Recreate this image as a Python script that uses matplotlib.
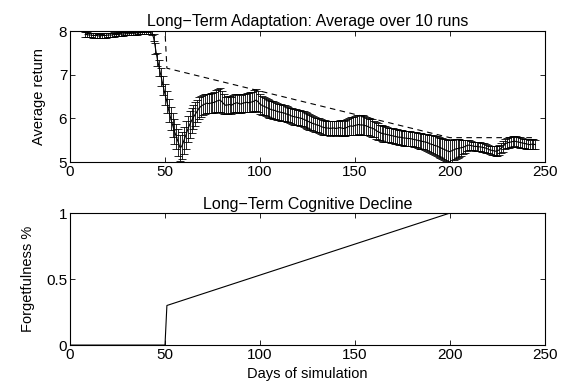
import numpy as np
import matplotlib
matplotlib.use("Agg")
import matplotlib.pyplot as plt

plt.rcParams['font.family'] = ['Liberation Sans', 'DejaVu Sans']

# ---- data ----
days_start, days_end = 8, 245
mean_return = [
    # 8..43
    7.92, 7.92, 7.91, 7.91, 7.90, 7.90, 7.90, 7.89, 7.89, 7.90, 7.90, 7.90, 7.91,
    7.91, 7.91, 7.92, 7.92, 7.92, 7.93, 7.93, 7.93, 7.94, 7.94, 7.94, 7.95, 7.95,
    7.95, 7.96, 7.96, 7.96, 7.97, 7.97, 7.97, 7.97, 7.97, 7.96,
    # 44..58
    7.85, 7.60, 7.35, 7.15, 6.95, 6.75, 6.55, 6.38, 6.18, 6.00, 5.85, 5.70, 5.58, 5.45, 5.32,
    # 59..70
    5.38, 5.50, 5.62, 5.75, 5.86, 5.95, 6.03, 6.10, 6.17, 6.24, 6.28, 6.31,
    # 71..86
    6.33, 6.35, 6.34, 6.35, 6.36, 6.37, 6.39, 6.41, 6.42, 6.38, 6.33, 6.30, 6.31, 6.32, 6.30, 6.33,
    # 87..100
    6.35, 6.36, 6.34, 6.33, 6.35, 6.36, 6.37, 6.36, 6.37, 6.38, 6.40, 6.42, 6.38, 6.33,
    # 101..120
    6.30, 6.28, 6.26, 6.24, 6.22, 6.20, 6.19, 6.18, 6.16, 6.15, 6.14, 6.13, 6.12, 6.10, 6.09,
    6.07, 6.05, 6.04, 6.03, 6.02,
    # 121..140
    6.01, 6.00, 5.98, 5.96, 5.94, 5.92, 5.90, 5.88, 5.87, 5.85, 5.84, 5.82, 5.80, 5.79, 5.78,
    5.78, 5.77, 5.78, 5.78, 5.77,
    # 141..160
    5.78, 5.79, 5.78, 5.77, 5.78, 5.80, 5.82, 5.83, 5.82, 5.84, 5.85, 5.86, 5.85, 5.85, 5.84,
    5.83, 5.81, 5.79, 5.78, 5.76,
    # 161..180
    5.73, 5.70, 5.68, 5.66, 5.65, 5.64, 5.63, 5.62, 5.61, 5.60, 5.59, 5.58, 5.57, 5.57, 5.56,
    5.55, 5.55, 5.54, 5.54, 5.53,
    # 181..200
    5.52, 5.51, 5.50, 5.49, 5.48, 5.47, 5.46, 5.45, 5.43, 5.41, 5.40, 5.38, 5.37, 5.35, 5.33,
    5.31, 5.29, 5.27, 5.25, 5.24,
    # 201..220
    5.26, 5.28, 5.30, 5.31, 5.32, 5.33, 5.34, 5.36, 5.38, 5.39, 5.38, 5.37, 5.36, 5.36, 5.35,
    5.35, 5.34, 5.33, 5.32, 5.30,
    # 221..245
    5.28, 5.27, 5.26, 5.25, 5.26, 5.28, 5.32, 5.36, 5.41, 5.44, 5.45, 5.46, 5.47, 5.48, 5.47,
    5.46, 5.45, 5.44, 5.43, 5.42, 5.41, 5.40, 5.41, 5.41, 5.40,
]
err_return = [
    # 8..43
    0.05, 0.05, 0.05, 0.05, 0.05, 0.05, 0.05, 0.05, 0.05, 0.05, 0.05, 0.05, 0.05,
    0.05, 0.05, 0.05, 0.04, 0.04, 0.04, 0.04, 0.04, 0.04, 0.04, 0.04, 0.04, 0.04,
    0.04, 0.04, 0.03, 0.03, 0.03, 0.03, 0.03, 0.03, 0.03, 0.04,
    # 44..58
    0.08, 0.12, 0.15, 0.18, 0.20, 0.22, 0.24, 0.25, 0.26, 0.27, 0.28, 0.28, 0.29, 0.30, 0.30,
    # 59..70
    0.30, 0.31, 0.31, 0.30, 0.30, 0.29, 0.28, 0.27, 0.26, 0.25, 0.24, 0.23,
    # 71..86
    0.22, 0.22, 0.22, 0.23, 0.23, 0.24, 0.25, 0.26, 0.27, 0.25, 0.22, 0.20, 0.20, 0.20, 0.20, 0.21,
    # 87..100
    0.21, 0.21, 0.21, 0.20, 0.21, 0.21, 0.22, 0.22, 0.23, 0.23, 0.24, 0.26, 0.24, 0.22,
    # 101..120
    0.21, 0.21, 0.20, 0.20, 0.20, 0.20, 0.20, 0.19, 0.19, 0.19, 0.19, 0.18, 0.18, 0.18, 0.18,
    0.18, 0.18, 0.18, 0.18, 0.18,
    # 121..140
    0.18, 0.18, 0.18, 0.18, 0.18, 0.18, 0.17, 0.17, 0.17, 0.17, 0.17, 0.17, 0.17, 0.17, 0.17,
    0.17, 0.17, 0.17, 0.17, 0.17,
    # 141..160
    0.17, 0.17, 0.18, 0.18, 0.19, 0.19, 0.20, 0.20, 0.21, 0.21, 0.22, 0.22, 0.22, 0.22, 0.21,
    0.21, 0.20, 0.20, 0.20, 0.19,
    # 161..180
    0.19, 0.19, 0.18, 0.18, 0.18, 0.18, 0.17, 0.17, 0.17, 0.17, 0.17, 0.17, 0.17, 0.17, 0.17,
    0.17, 0.17, 0.17, 0.17, 0.17,
    # 181..200
    0.17, 0.17, 0.17, 0.18, 0.18, 0.18, 0.19, 0.19, 0.20, 0.20, 0.21, 0.21, 0.22, 0.23, 0.23,
    0.24, 0.25, 0.25, 0.26, 0.26,
    # 201..220
    0.25, 0.24, 0.23, 0.22, 0.20, 0.18, 0.16, 0.14, 0.12, 0.11, 0.10, 0.10, 0.10, 0.10, 0.10,
    0.10, 0.10, 0.10, 0.10, 0.10,
    # 221..245
    0.10, 0.10, 0.10, 0.11, 0.11, 0.11, 0.12, 0.12, 0.12, 0.12, 0.12, 0.12, 0.12, 0.12, 0.12,
    0.12, 0.12, 0.12, 0.11, 0.11, 0.11, 0.11, 0.11, 0.11, 0.11,
]
days = np.arange(days_start, days_end + 1)

# optimal (dashed) return
opt_days = [0, 50, 51, 200, 245]
opt_return = [8.0, 8.0, 7.15, 5.56, 5.56]

# forgetfulness
forget_days = [0, 50, 51, 200, 245]
forget_pct = [0.0, 0.0, 0.3, 1.0, 1.0]

xticks = [0, 50, 100, 150, 200, 250]

# ---- figure ----
fig = plt.figure(figsize=(5.67, 3.86), dpi=100)
ax1 = fig.add_axes([0.1235, 0.580, 0.8375, 0.3395])
ax2 = fig.add_axes([0.1235, 0.106, 0.8375, 0.342])

for ax in (ax1, ax2):
    ax.tick_params(direction='in', top=True, right=True, length=3.5, width=0.6,
                   labelsize=11, pad=2)
    for s in ax.spines.values():
        s.set_linewidth(0.8)
    ax.set_xlim(0, 250)
    ax.set_xticks(xticks)

ax1.errorbar(days, mean_return, yerr=err_return, color='black', lw=0.8,
             elinewidth=0.6, capsize=3.2, capthick=0.6, ecolor='black')
ax1.plot(opt_days, opt_return, color='black', ls=(0, (5, 4)), lw=0.8)
ax1.set_ylim(5, 8)
ax1.set_yticks([5, 6, 7, 8])
ax1.set_ylabel('Average return', fontsize=10.5, labelpad=9)
ax1.set_title('Long\u2212Term Adaptation: Average over 10 runs', fontsize=11.5, pad=4)

ax2.plot(forget_days, forget_pct, color='black', lw=0.8)
ax2.set_ylim(0, 1)
ax2.set_yticks([0, 0.5, 1])
ax2.set_yticklabels(['0', '0.5', '1'])
ax2.set_ylabel('Forgetfulness %', fontsize=10.5, labelpad=8)
ax2.set_xlabel('Days of simulation', fontsize=10.5, labelpad=4)
ax2.set_title('Long\u2212Term Cognitive Decline', fontsize=11.5, pad=3)

fig.savefig('out.png', dpi=100)
